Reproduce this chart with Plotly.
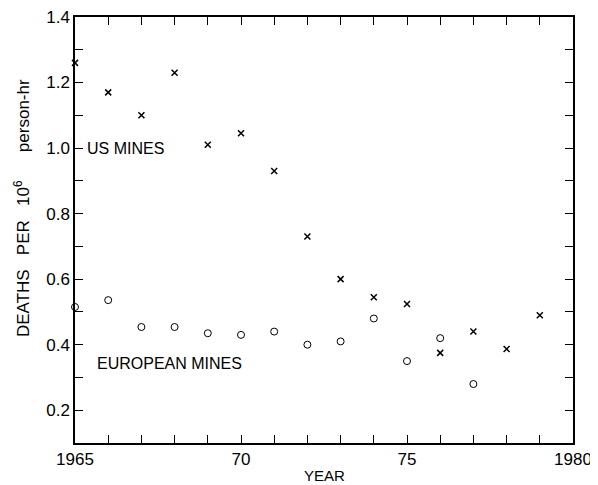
import plotly.graph_objects as go

us_years = [1965, 1966, 1967, 1968, 1969, 1970, 1971, 1972, 1973, 1974, 1975, 1976, 1977, 1978, 1979]
us_deaths = [1.26, 1.17, 1.10, 1.23, 1.01, 1.045, 0.93, 0.73, 0.60, 0.545, 0.524, 0.375, 0.44, 0.387, 0.49]

eu_years = [1965, 1966, 1967, 1968, 1969, 1970, 1971, 1972, 1973, 1974, 1975, 1976, 1977]
eu_deaths = [0.515, 0.536, 0.454, 0.454, 0.435, 0.43, 0.44, 0.40, 0.41, 0.48, 0.35, 0.42, 0.28]

x_tickvals = [1965, 1970, 1975, 1980]
x_ticktext = ["1965", "70", "75", "1980"]
y_tickvals = [0.2, 0.4, 0.6, 0.8, 1.0, 1.2, 1.4]
y_ticktext = ["0.2", "0.4", "0.6", "0.8", "1.0", "1.2", "1.4"]

FONT = "Liberation Sans, Arial, sans-serif"
NB = "\u00a0"

fig = go.Figure()
fig.add_trace(go.Scatter(x=us_years, y=us_deaths, mode="markers",
                         marker=dict(symbol="x-thin", size=6, line=dict(color="black", width=1.5)),
                         showlegend=False, cliponaxis=False))
fig.add_trace(go.Scatter(x=eu_years, y=eu_deaths, mode="markers",
                         marker=dict(symbol="circle-open", size=7, color="black", line=dict(width=1)),
                         showlegend=False, cliponaxis=False))

fig.add_annotation(x=1965.3, y=1.0, text="US MINES", showarrow=False, xanchor="left",
                   font=dict(size=16, color="black", family=FONT))
fig.add_annotation(x=1965.6, y=0.344, text="EUROPEAN MINES", showarrow=False, xanchor="left",
                   font=dict(size=16, color="black", family=FONT))

# y-axis title as rotated annotation
ytitle = "DEATHS" + NB * 3 + "PER" + NB * 3 + "10<sup>6</sup>" + NB * 6 + "person-hr"
fig.add_annotation(xref="paper", yref="paper", x=(22 - 75) / 498, y=(443 - 208) / 426,
                   text=ytitle, textangle=-90, showarrow=False, xanchor="center", yanchor="middle",
                   font=dict(size=17, color="black", family=FONT))
# x-axis title
fig.add_annotation(xref="paper", yref="paper", x=0.5, y=(443 - 475) / 426,
                   text="YEAR", showarrow=False, xanchor="center", yanchor="middle",
                   font=dict(size=15, color="black", family=FONT))

fig.update_xaxes(range=[1965, 1980], tickvals=x_tickvals, ticktext=x_ticktext,
                 showgrid=False, zeroline=False, showline=True, linecolor="black", linewidth=1.5,
                 mirror="allticks", ticks="inside", ticklen=8, tickcolor="black", automargin=False,
                 ticklabeloverflow="allow",
                 minor=dict(dtick=1, ticks="inside", ticklen=8, tickcolor="black", showgrid=False),
                 tickfont=dict(size=17, color="black", family=FONT))
fig.update_yaxes(range=[0.1, 1.4], tickvals=y_tickvals, ticktext=y_ticktext,
                 showgrid=False, zeroline=False, showline=True, linecolor="black", linewidth=1.5,
                 mirror="allticks", ticks="inside", ticklen=8, tickcolor="black", automargin=False,
                 ticklabeloverflow="allow",
                 minor=dict(dtick=0.1, tick0=0.1, ticks="inside", ticklen=8, tickcolor="black", showgrid=False),
                 tickfont=dict(size=17, color="black", family=FONT))

fig.update_layout(width=590, height=477, plot_bgcolor="white", paper_bgcolor="white",
                  margin=dict(l=67, r=25, t=9, b=42))

fig.write_html("out.html")
